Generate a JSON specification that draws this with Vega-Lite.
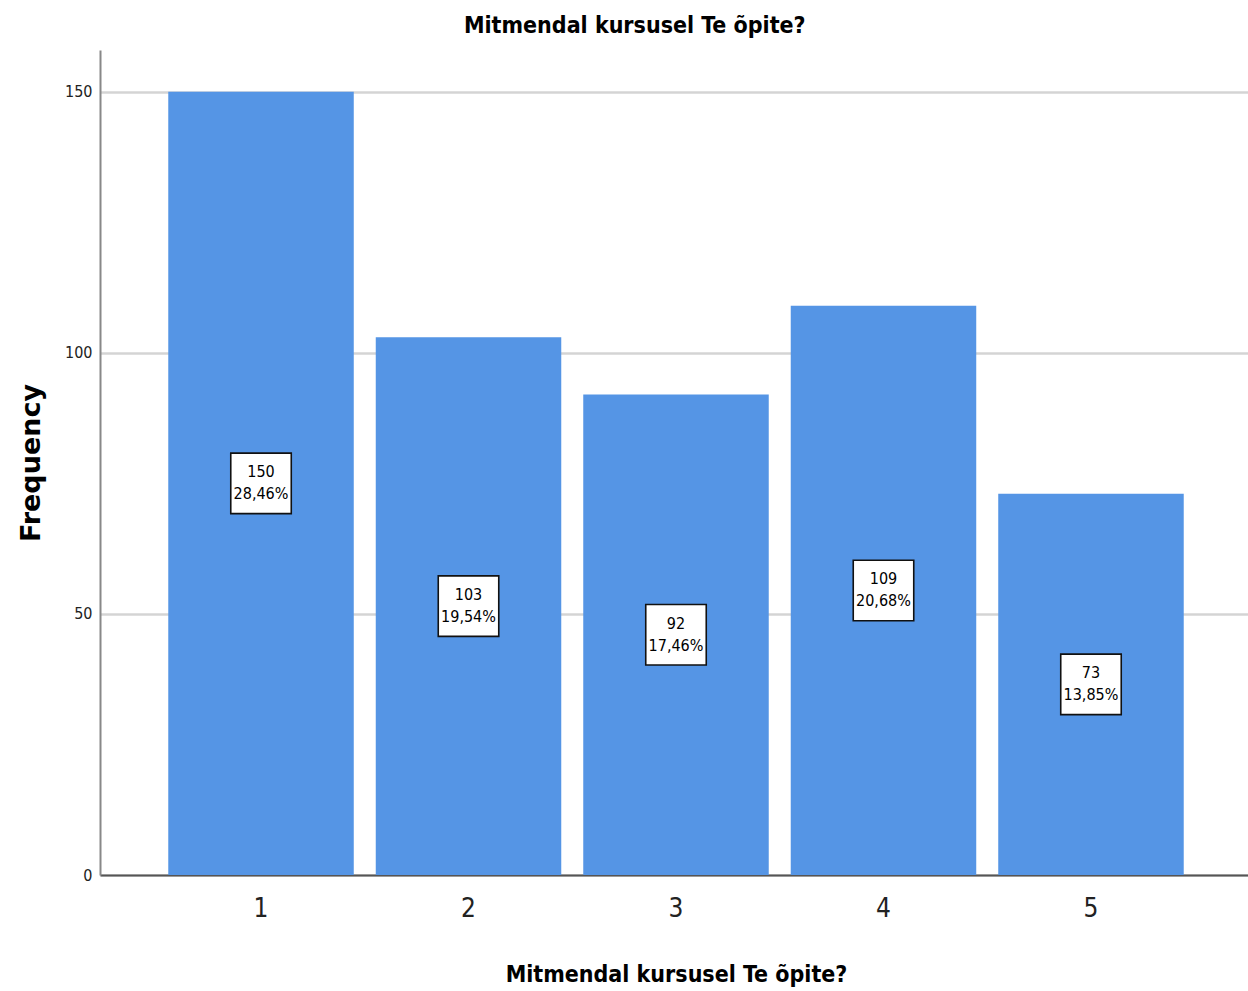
{
  "$schema": "https://vega.github.io/schema/vega-lite/v6.json",
  "autosize": {"type": "none"},
  "width": 1152,
  "height": 825,
  "padding": {"left": 100, "top": 50, "right": 0, "bottom": 116},
  "background": "white",
  "config": {"view": {"stroke": null}},
  "title": {
    "text": "Mitmendal kursusel Te õpite?",
    "font": "DejaVu Sans Condensed, sans-serif",
    "fontSize": 23,
    "fontWeight": "bold",
    "color": "#000000",
    "anchor": "middle",
    "frame": "bounds",
    "offset": 12
  },
  "data": {
    "values": [
      {"cat": "1", "count": 150, "pct": "28,46%"},
      {"cat": "2", "count": 103, "pct": "19,54%"},
      {"cat": "3", "count": 92, "pct": "17,46%"},
      {"cat": "4", "count": 109, "pct": "20,68%"},
      {"cat": "5", "count": 73, "pct": "13,85%"}
    ]
  },
  "encoding": {
    "x": {
      "field": "cat",
      "type": "nominal",
      "scale": {"paddingInner": 0.106, "paddingOuter": 0.329},
      "axis": {
        "title": "Mitmendal kursusel Te õpite?",
        "titleFont": "DejaVu Sans Condensed, sans-serif",
        "titleFontSize": 23,
        "titleFontWeight": "bold",
        "titleColor": "#000000",
        "titlePadding": 42,
        "labelAngle": 0,
        "labelFont": "DejaVu Sans Condensed, sans-serif",
        "labelFontSize": 26,
        "labelColor": "#222222",
        "labelPadding": 20,
        "ticks": false,
        "domainColor": "#555555",
        "domainWidth": 2,
        "grid": false
      }
    }
  },
  "layer": [
    {
      "mark": {"type": "bar", "color": "#5595E5"},
      "encoding": {
        "y": {
          "field": "count",
          "type": "quantitative",
          "scale": {"domain": [0, 158], "nice": false},
          "axis": {
            "title": "Frequency",
            "titleFont": "DejaVu Sans, sans-serif",
            "titleFontSize": 27,
            "titleFontWeight": "bold",
            "titleColor": "#000000",
            "titlePadding": 19,
            "values": [0, 50, 100, 150],
            "labelFont": "DejaVu Sans Condensed, sans-serif",
            "labelFontSize": 16,
            "labelColor": "#222222",
            "labelPadding": 8,
            "ticks": false,
            "domainColor": "#888888",
            "domainWidth": 2,
            "grid": true,
            "gridColor": "#d4d4d4",
            "gridWidth": 2.5
          }
        }
      }
    },
    {
      "mark": {"type": "point", "shape": "square", "filled": true, "fill": "white", "stroke": "#111111", "strokeWidth": 1.6, "size": 3660, "opacity": 1},
      "encoding": {
        "y": {"field": "count", "type": "quantitative", "scale": {"domain": [0, 316], "nice": false}, "axis": null}
      }
    },
    {
      "mark": {"type": "text", "font": "DejaVu Sans Condensed, sans-serif", "fontSize": 16, "color": "#000000", "dy": -11, "baseline": "middle"},
      "encoding": {
        "y": {"field": "count", "type": "quantitative", "scale": {"domain": [0, 316], "nice": false}, "axis": null},
        "text": {"field": "count", "type": "quantitative"}
      }
    },
    {
      "mark": {"type": "text", "font": "DejaVu Sans Condensed, sans-serif", "fontSize": 16, "color": "#000000", "dy": 11, "baseline": "middle"},
      "encoding": {
        "y": {"field": "count", "type": "quantitative", "scale": {"domain": [0, 316], "nice": false}, "axis": null},
        "text": {"field": "pct", "type": "nominal"}
      }
    }
  ],
  "resolve": {"scale": {"y": "independent"}}
}
